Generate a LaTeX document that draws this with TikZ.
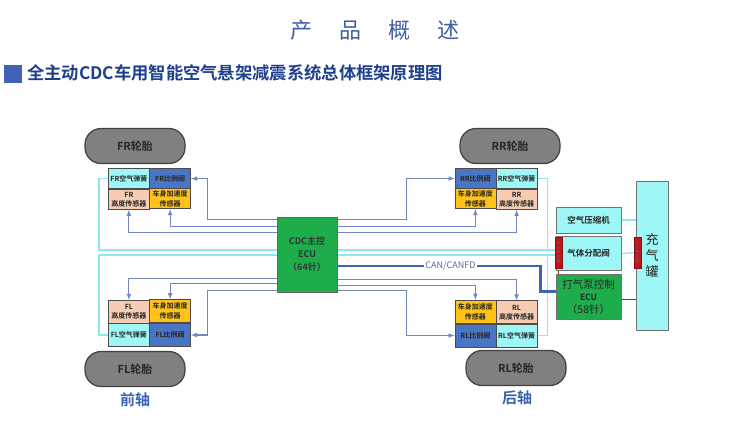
\documentclass[tikz,border=0pt]{standalone}
\usepackage{fontspec}
\setmainfont{Noto Sans CJK SC}[BoldFont={Noto Sans CJK SC Bold}]
\usepackage{tikz}
\usetikzlibrary{positioning}
\usetikzlibrary{matrix,backgrounds}
\definecolor{springc}{rgb}{0.62,0.97,0.97}
\definecolor{valvec}{rgb}{0.29,0.46,0.77}
\definecolor{heightc}{rgb}{0.97,0.80,0.70}
\definecolor{accelc}{rgb}{1.00,0.76,0.10}
\definecolor{ecuc}{rgb}{0.12,0.68,0.30}
\definecolor{sigc}{rgb}{0.44,0.53,0.75}
\definecolor{airc}{rgb}{0.56,0.91,0.93}
\definecolor{canc}{rgb}{0.25,0.39,0.72}
\definecolor{sensc}{rgb}{0.76,0.08,0.11}
\definecolor{titlec}{rgb}{0.25,0.37,0.63}
\definecolor{subc}{rgb}{0.12,0.25,0.55}
\definecolor{axlec}{rgb}{0.23,0.39,0.70}
\newcommand{\stackcell}[2]{\shortstack{#1\\#2}}

\begin{document}
\begin{tikzpicture}[x=1pt,y=-1pt,font=\bfseries\fontsize{7}{8}\selectfont,
unitgrid/.style={matrix of nodes,nodes={draw=black!70, line width=0.6pt, minimum width=41pt, minimum height=20pt, inner sep=0pt, text=black!85},
column sep=-\pgflinewidth, row sep=-\pgflinewidth},
spring/.style={fill=springc}, valvecell/.style={fill=valvec}, heightcell/.style={fill=heightc}, accel/.style={fill=accelc},
tire/.style={draw=black!75, line width=1.2pt, fill=black!50, rounded corners=16pt, minimum width=100pt, minimum height=35pt, font=\bfseries\fontsize{11}{12}\selectfont, text=black!85},
ecubox/.style={draw=black!60, line width=0.6pt, fill=ecuc, minimum width=60pt, minimum height=75pt, align=center, text=black!80, font=\bfseries\fontsize{9}{13}\selectfont},
airbox/.style={draw=black!55, line width=0.6pt, fill=springc, minimum width=65pt, text=black!85, font=\fontsize{8.5}{10}\selectfont},
sensbox/.style={draw=sensc!70!black, line width=0.4pt, fill=sensc, minimum width=7pt, minimum height=31pt, inner sep=0pt, align=center, text=black!60, font=\fontsize{3.6}{4.4}\selectfont},
sig/.style={draw=sigc, line width=1.1pt, -latex},
air/.style={draw=airc, line width=1.3pt},
can/.style={draw=canc, line width=2.6pt},
redline/.style={draw=sensc, line width=1.1pt},
axle/.style={text=axlec, font=\bfseries\fontsize{15}{17}\selectfont}]
\useasboundingbox (0,0) rectangle (750,423);

% heading
\node[text=titlec, font=\fontsize{22}{24}\selectfont] (title) at (375,30) {产\hspace{27pt}品\hspace{27pt}概\hspace{27pt}述};
\node[fill=canc, minimum size=18pt, inner sep=0pt] (mark) at (13,74) {};
\node[text=subc, anchor=west, inner sep=0pt, font=\bfseries\fontsize{17.3}{19}\selectfont] (subtitle) at (27,73) {全主动CDC车用智能空气悬架减震系统总体框架原理图};

% wheels
\node[tire] (frtire) at (135,146) {FR轮胎};
\node[tire] (rrtire) at (510,146) {RR轮胎};
\node[tire] (fltire) at (135,369) {FL轮胎};
\node[tire] (rltire) at (516,368) {RL轮胎};
\node[axle] (front) at (135,400) {前轴};
\node[axle] (rear) at (517,398) {后轴};

% corner units
\matrix[unitgrid] (fr) at (149.5,189) {
|[spring]| FR空气弹簧 & |[valvecell]| FR比例阀\\
|[heightcell]| \stackcell{FR}{高度传感器} & |[accel]| \stackcell{车身加速度}{传感器}\\};
\matrix[unitgrid] (rr) at (496,189) {
|[valvecell]| RR比例阀 & |[spring]| RR空气弹簧\\
|[accel]| \stackcell{车身加速度}{传感器} & |[heightcell]| \stackcell{RR}{高度传感器}\\};
\matrix[unitgrid, nodes={minimum height=23pt}] (fl) at (149.5,323) {
|[heightcell]| \stackcell{FL}{高度传感器} & |[accel]| \stackcell{车身加速度}{传感器}\\
|[spring]| FL空气弹簧 & |[valvecell]| FL比例阀\\};
\matrix[unitgrid, nodes={minimum height=23pt}] (rl) at (496,323.5) {
|[accel]| \stackcell{车身加速度}{传感器} & |[heightcell]| \stackcell{RL}{高度传感器}\\
|[valvecell]| RL比例阀 & |[spring]| RL空气弹簧\\};

% controllers and air supply
\node[ecubox] (ecu) at (307,254.5) {CDC主控\\ECU\\（64针）};
\node[airbox, minimum height=26pt] (comp) at (588.5,220) {\bfseries 空气压缩机};
\node[airbox, minimum height=34pt, below=3pt of comp] (valve) {\bfseries 气体分配阀};
\node[airbox, fill=ecuc, minimum height=45pt, below=3pt of valve, align=center, font=\fontsize{10.5}{12.5}\selectfont] (pump) {打气泵控制\\{\bfseries\fontsize{8.5}{10}\selectfont ECU}\\（58针）};
\node[airbox, minimum width=32pt, minimum height=149pt, align=center, font=\fontsize{13}{16}\selectfont] (tank) at (652,255.5) {充\\气\\罐};
\node[sensbox] (psa) at (558.5,252.5) {压\\力\\传\\感\\器};
\node[sensbox] (psb) at (637.5,252.5) {压\\力\\传\\感\\器};
\node[fill=white, inner sep=1pt, text=sigc!80!black, font=\fontsize{9}{10}\selectfont] (canlbl) at (450.5,266) {CAN/CANFD};

\begin{scope}[on background layer]
\fill[white] (0,0) rectangle (750,423);
% air lines
\draw[air] (fr-1-1.west) -- ++(-9,0) |- ([yshift=2.5pt]psa.west);
\draw[air] (fl-2-1.west) -- ++(-9,0) |- ([yshift=-2.5pt]psa.west);
\draw[air] (rr-1-2.east) -- ++(10,0) |- ([yshift=2.5pt]psa.west);
\draw[air] (rl-2-2.east) -- ++(10,0) |- ([yshift=-2.5pt]psa.west);
\draw[air] (comp.east) -- (comp.east -| tank.west);
\draw[air] (valve.east) -- (psb.west);
% signal lines
\draw[sig] ([yshift=-3pt]ecu.north west) -| ([xshift=17pt]fr-1-2.east) -- (fr-1-2.east);
\draw[sig] ([yshift=-10pt]ecu.north west) -| (fr-2-2.south);
\draw[sig] ([yshift=-16pt]ecu.north west) -| (fr-2-1.south);
\draw[sig] ([yshift=2pt]ecu.south west) -| ([xshift=17pt]fl-2-2.east) -- (fl-2-2.east);
\draw[sig] ([yshift=9pt]ecu.south west) -| (fl-1-2.north);
\draw[sig] ([yshift=14pt]ecu.south west) -| (fl-1-1.north);
\draw[sig] ([yshift=-3pt]ecu.north east) -| ([xshift=-48pt]rr-1-1.west) -- (rr-1-1.west);
\draw[sig] ([yshift=-10pt]ecu.north east) -| (rr-2-1.south);
\draw[sig] ([yshift=-16pt]ecu.north east) -| (rr-2-2.south);
\draw[sig] ([yshift=2pt]ecu.south east) -| ([xshift=-48pt]rl-2-1.west) -- (rl-2-1.west);
\draw[sig] ([yshift=7pt]ecu.south east) -| (rl-1-1.north);
\draw[sig] ([yshift=13pt]ecu.south east) -| (rl-1-2.north);
% bus and pump wiring
\draw[can] (canlbl.west -| ecu.east) -- (canlbl.west);
\draw[can] (canlbl.east) -- ++(64,0) |- ([yshift=5pt]pump.west);
\draw[redline] (psa.south) -- (psa.south |- pump.north);
\draw[redline] ([yshift=-2.5pt]pump.east) -- ([yshift=-2.5pt]pump.east -| tank.west);
\end{scope}
\end{tikzpicture}
\end{document}
